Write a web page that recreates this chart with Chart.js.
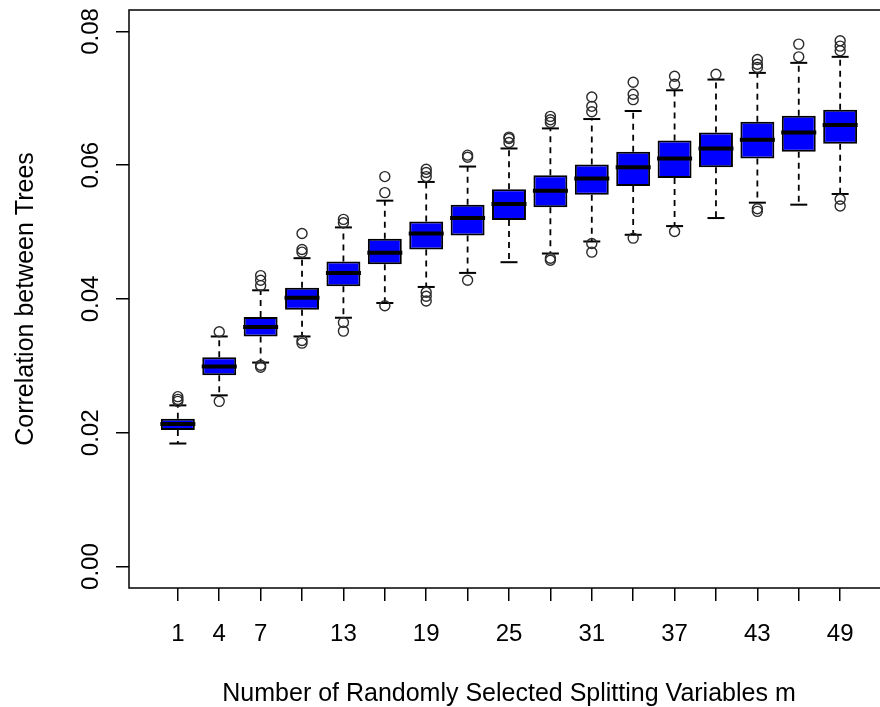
<!DOCTYPE html>
<html>
<head>
<meta charset="utf-8">
<script src="https://cdn.jsdelivr.net/npm/chart.js"></script>
<style>
  html, body { margin: 0; padding: 0; background: #fff; overflow: hidden; }
  #wrap { width: 889px; height: 707px; }
</style>
</head>
<body>
<div id="wrap"><canvas id="box-chart-canvas" width="889" height="707"></canvas></div>
<script>
// Number of randomly selected splitting variables (one box per value)
const mValues = [1, 4, 7, 10, 13, 16, 19, 22, 25, 28, 31, 34, 37, 40, 43, 46, 49];
const xTickLabels = ["1", "4", "7", "", "13", "", "19", "", "25", "", "31", "", "37", "", "43", "", "49"];

// box statistics
const whiskerLow = [0.0184, 0.0256, 0.0305, 0.0344, 0.0372, 0.0394, 0.0418, 0.0439, 0.0455, 0.0468, 0.0486, 0.0496, 0.0509, 0.0521, 0.0544, 0.0541, 0.0557];
const q1 = [0.0204, 0.0286, 0.0344, 0.0384, 0.0419, 0.0452, 0.0474, 0.0495, 0.0518, 0.0537, 0.0556, 0.0569, 0.0581, 0.0597, 0.0610, 0.0620, 0.0632];
const median = [0.0213, 0.0299, 0.0358, 0.0402, 0.0439, 0.0469, 0.0498, 0.0521, 0.0542, 0.0562, 0.0580, 0.0597, 0.0610, 0.0625, 0.0638, 0.0649, 0.0660];
const q3 = [0.0221, 0.0313, 0.0373, 0.0417, 0.0456, 0.0490, 0.0516, 0.0541, 0.0564, 0.0585, 0.0601, 0.0620, 0.0637, 0.0649, 0.0665, 0.0674, 0.0683];
const whiskerHigh = [0.0241, 0.0344, 0.0413, 0.0461, 0.0507, 0.0547, 0.0575, 0.0598, 0.0625, 0.0655, 0.0669, 0.0681, 0.0712, 0.0728, 0.0738, 0.0753, 0.0762];
const outliers = [
  [0.0247, 0.0250, 0.0254],
  [0.0351, 0.0247],
  [0.0420, 0.0428, 0.0435, 0.0298, 0.0301],
  [0.0470, 0.0474, 0.0498, 0.0338, 0.0334],
  [0.0514, 0.0519, 0.0365, 0.0352],
  [0.0559, 0.0583, 0.0390],
  [0.0583, 0.0589, 0.0594, 0.0410, 0.0404, 0.0397],
  [0.0612, 0.0615, 0.0428],
  [0.0634, 0.0640, 0.0642],
  [0.0664, 0.0668, 0.0673, 0.0461, 0.0458],
  [0.0680, 0.0688, 0.0702, 0.0483, 0.0470],
  [0.0698, 0.0706, 0.0724, 0.0491],
  [0.0721, 0.0733, 0.0501],
  [0.0736],
  [0.0746, 0.0751, 0.0758, 0.0535, 0.0531],
  [0.0762, 0.0781],
  [0.0771, 0.0778, 0.0786, 0.0549, 0.0539],
];

const yTickValues = [0, 0.02, 0.04, 0.06, 0.08];
const yTickLabels = ["0.00", "0.02", "0.04", "0.06", "0.08"];

Chart.defaults.font.family = "'Liberation Sans', Arial, sans-serif";
Chart.defaults.color = "#000";

// boxes sit at positions 1..17 on a linear axis
const pos = mValues.map((m, i) => i + 1);

const boxData = pos.map((x, i) => ({ x: x, y: [q1[i], q3[i]] }));
const medianData = pos.map((x, i) => ({ x: x, y: median[i] }));
const capData = [];
const whiskerData = [];
pos.forEach((x, i) => {
  capData.push({ x: x, y: whiskerLow[i] }, { x: x, y: whiskerHigh[i] });
  whiskerData.push(
    { x: x, y: q3[i] }, { x: x, y: whiskerHigh[i] }, { x: x, y: null },
    { x: x, y: q1[i] }, { x: x, y: whiskerLow[i] }, { x: x, y: null }
  );
});
const outlierData = [];
outliers.forEach((list, i) => list.forEach(v => outlierData.push({ x: pos[i], y: v })));

// frame around the plot + y tick labels written along the axis (like R)
const framePlugin = {
  id: "frame",
  afterDraw(chart) {
    const { ctx, chartArea } = chart;
    const yScale = chart.scales.y;
    ctx.save();
    ctx.strokeStyle = "#000";
    ctx.lineWidth = 1.5;
    ctx.strokeRect(chartArea.left, chartArea.top, chartArea.right - chartArea.left, chartArea.bottom - chartArea.top);
    ctx.fillStyle = "#000";
    ctx.font = "24px 'Liberation Sans', Arial, sans-serif";
    ctx.textAlign = "center";
    ctx.textBaseline = "middle";
    yTickValues.forEach((v, i) => {
      ctx.save();
      ctx.translate(91, yScale.getPixelForValue(v));
      ctx.rotate(-Math.PI / 2);
      ctx.fillText(yTickLabels[i], 0, 0);
      ctx.restore();
    });
    ctx.restore();
  },
};

const boxChart = document.getElementById("box-chart-canvas");

new Chart(boxChart, {
  type: "bar",
  data: {
    datasets: [
      {
        type: "scatter",
        label: "median",
        data: medianData,
        pointStyle: "line",
        pointRadius: 17.5,
        pointBorderWidth: 4,
        pointBorderColor: "#000",
        order: 0,
      },
      {
        type: "scatter",
        label: "outliers",
        data: outlierData,
        pointStyle: "circle",
        pointRadius: 5,
        pointBorderWidth: 1.4,
        pointBorderColor: "#2a2a2a",
        pointBackgroundColor: "rgba(0,0,0,0)",
        order: 1,
      },
      {
        type: "bar",
        label: "box",
        data: boxData,
        backgroundColor: "#0000ff",
        borderColor: "#000",
        borderWidth: 2,
        borderSkipped: false,
        barPercentage: 0.82,
        categoryPercentage: 1.0,
        order: 2,
      },
      {
        type: "scatter",
        label: "caps",
        data: capData,
        pointStyle: "line",
        pointRadius: 8.5,
        pointBorderWidth: 2,
        pointBorderColor: "#000",
        order: 3,
      },
      {
        type: "scatter",
        label: "whiskers",
        data: whiskerData,
        showLine: true,
        spanGaps: false,
        pointRadius: 0,
        borderColor: "#000",
        borderWidth: 1.8,
        borderDash: [6, 5],
        order: 4,
      },
    ],
  },
  options: {
    responsive: false,
    animation: false,
    events: [],
    layout: { autoPadding: false, padding: { top: 10, right: 0, bottom: 0, left: 0 } },
    plugins: { legend: { display: false }, tooltip: { enabled: false } },
    scales: {
      x: {
        type: "linear",
        min: -0.18,
        max: 18.18,
        offset: false,
        afterBuildTicks: (scale) => {
          scale.ticks = pos.map(v => ({ value: v }));
        },
        afterFit: (scale) => {
          scale.height = 119;
          scale.paddingLeft = 0;
          scale.paddingRight = 0;
        },
        ticks: {
          autoSkip: false,
          maxRotation: 0,
          minRotation: 0,
          padding: 19,
          font: { size: 24 },
          callback: (value, index) => xTickLabels[index],
        },
        grid: {
          offset: false,
          drawOnChartArea: false,
          tickLength: 13,
          color: "#000",
          lineWidth: 1.5,
        },
        border: { display: false },
        title: {
          display: true,
          text: "Number of Randomly Selected Splitting Variables m",
          font: { size: 25 },
          padding: { top: 0, bottom: -2 },
        },
      },
      y: {
        type: "linear",
        min: -0.0032,
        max: 0.0832,
        afterBuildTicks: (scale) => {
          scale.ticks = yTickValues.map(v => ({ value: v }));
        },
        afterFit: (scale) => {
          scale.width = 129;
          scale.paddingTop = 0;
          scale.paddingBottom = 0;
        },
        ticks: { display: false },
        grid: {
          drawOnChartArea: false,
          tickLength: 13,
          color: "#000",
          lineWidth: 1.5,
        },
        border: { display: false },
        title: {
          display: true,
          text: "Correlation between Trees",
          font: { size: 25 },
          padding: { top: 11, bottom: 0 },
        },
      },
    },
  },
  plugins: [framePlugin],
});
</script>
</body>
</html>
